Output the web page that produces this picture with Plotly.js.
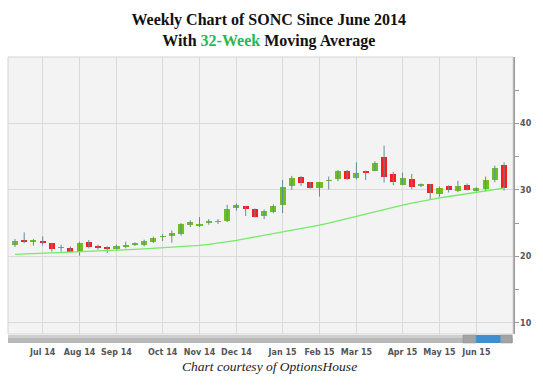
<!DOCTYPE html>
<html>
<head>
<meta charset="utf-8">
<script src="https://cdn.plot.ly/plotly-3.0.1.min.js"></script>
<style>
  html, body { margin: 0; padding: 0; background: #ffffff; }
  #chart { width: 543px; height: 387px; }
</style>
</head>
<body>
<div id="chart"></div>
<script>
// Weekly candles (Monday dates), SONC, Jun 2014 - Jun 2015
var weekStart = '2014-06-16';
var weekCount = 54;
var opens  = [21.70,22.45,22.10,22.35,21.95,21.20,21.25,20.70,22.10,21.60,21.45,21.10,21.45,21.75,21.65,22.15,22.85,23.00,23.30,24.65,24.55,25.00,25.10,25.25,27.25,27.50,27.10,26.00,26.70,27.70,30.65,31.95,31.15,30.25,31.30,31.65,32.80,31.80,32.70,32.90,34.90,32.35,30.80,31.65,30.60,30.85,29.40,30.55,29.85,30.70,29.85,30.20,31.50,33.80];
var highs  = [22.60,23.60,22.60,23.00,22.00,21.75,21.50,22.20,22.45,21.75,21.50,21.75,22.20,22.10,22.50,22.95,23.35,23.90,25.00,25.40,25.90,25.60,25.60,27.75,27.95,27.60,27.20,27.05,27.80,31.50,32.10,32.10,31.20,31.20,32.00,33.00,33.00,34.15,32.90,34.30,36.65,32.70,32.60,32.40,30.95,30.90,30.50,30.70,31.35,30.95,30.40,32.00,33.65,34.15];
var lows   = [21.40,21.95,21.60,21.60,20.70,20.70,20.60,20.10,21.20,21.00,20.50,21.00,21.20,21.55,21.50,22.00,22.30,22.05,23.10,24.40,24.40,24.75,24.85,25.15,26.85,26.05,25.80,25.60,26.50,26.50,30.00,30.60,30.20,29.00,30.05,31.30,31.50,31.55,31.50,32.80,31.10,30.70,30.70,30.10,30.40,28.50,28.95,29.60,29.65,29.90,29.75,29.75,31.15,29.90];
var closes = [22.35,22.10,22.40,21.95,21.10,21.45,20.70,21.95,21.45,21.20,21.10,21.60,21.75,21.85,22.25,22.80,22.95,23.50,24.80,25.15,24.90,25.10,25.20,27.05,27.65,27.15,25.95,26.80,27.50,30.40,31.85,31.10,30.25,31.15,31.40,32.80,31.65,32.55,32.60,34.05,32.00,31.25,31.75,30.40,30.75,29.50,30.35,30.00,30.65,30.05,30.25,31.50,33.30,30.30];
// 32-week moving average
var ma32 = [20.30,20.35,20.40,20.45,20.50,20.55,20.60,20.65,20.70,20.75,20.82,20.90,20.97,21.05,21.12,21.20,21.30,21.38,21.47,21.56,21.65,21.80,21.98,22.18,22.40,22.65,22.90,23.15,23.38,23.60,23.90,24.18,24.45,24.70,25.00,25.35,25.65,26.00,26.40,26.75,27.10,27.40,27.70,28.00,28.30,28.55,28.80,29.00,29.20,29.40,29.60,29.80,30.00,30.25];
// Month tick labels (first weekly bar of each month)
var monthTicks = ['2014-07-07','2014-08-04','2014-09-01','2014-10-06','2014-11-03','2014-12-01','2015-01-05','2015-02-02','2015-03-02','2015-04-06','2015-05-04','2015-06-01'];
var monthLabels = ['Jul 14','Aug 14','Sep 14','Oct 14','Nov 14','Dec 14','Jan 15','Feb 15','Mar 15','Apr 15','May 15','Jun 15'];
var priceTicks = [10,20,30,40];
var priceMinorTicks = [15,25,35,45];

// build weekly dates
var dates = [];
var d0 = new Date(weekStart + 'T00:00:00Z');
for (var i = 0; i < weekCount; i++) {
  var d = new Date(d0.getTime() + i * 7 * 86400000);
  dates.push(d.toISOString().slice(0, 10));
}

var GREEN = '#6cc020', RED = '#ff1c1c', WICK = '#5f8d9c';

var wx = [], wy = [];
for (var i = 0; i < weekCount; i++) {
  wx.push(dates[i], dates[i], null);
  wy.push(lows[i], highs[i], null);
}
var bodyBase = [], bodyLen = [], bodyCol = [];
for (var i = 0; i < weekCount; i++) {
  var lo = Math.min(opens[i], closes[i]);
  var len = Math.abs(closes[i] - opens[i]);
  bodyBase.push(lo);
  bodyLen.push(Math.max(len, 0.24));
  bodyCol.push(closes[i] >= opens[i] ? GREEN : RED);
}

var traces = [
  { type: 'scatter', mode: 'lines', x: wx, y: wy, line: { color: WICK, width: 1 }, hoverinfo: 'skip', showlegend: false, connectgaps: false },
  { type: 'bar', x: dates, y: bodyLen, base: bodyBase, width: 0.66 * 7 * 86400000,
    marker: { color: bodyCol, line: { width: 0 } }, showlegend: false },
  { type: 'scatter', mode: 'lines', x: dates, y: ma32, line: { color: '#72ec66', width: 1.3 }, showlegend: false }
];

var H = 277; // plot height in px
var layout = {
  width: 543, height: 387,
  margin: { l: 8, r: 30, t: 57, b: 53, pad: 0 },
  paper_bgcolor: '#ffffff',
  plot_bgcolor: '#f3f3f3',
  font: { family: 'DejaVu Sans', size: 8, color: '#555555' },
  title: {
    text: 'Weekly Chart of SONC Since June 2014<br>With <span style="color:#1fb85a">32-Week</span> Moving Average',
    font: { family: 'Liberation Serif', size: 16, color: '#111111', weight: 'bold' },
    x: 0.495, xanchor: 'center', y: 0.935, yanchor: 'top', yref: 'container'
  },
  bargap: 0,
  xaxis: {
    type: 'date',
    range: ['2014-06-10 17:00', '2015-06-28 19:00'],
    tickvals: monthTicks, ticktext: monthLabels,
    showgrid: true, gridcolor: '#dadada', gridwidth: 1,
    ticks: '', showline: false, zeroline: false,
    tickfont: { family: 'DejaVu Sans', size: 8, color: '#555555', weight: 'bold' },
    ticklabelstandoff: 12,
    fixedrange: true
  },
  yaxis: {
    side: 'right',
    range: [8.3, 50],
    tickvals: priceTicks,
    showgrid: true, gridcolor: '#dadada', gridwidth: 1,
    zeroline: false,
    showline: true, linecolor: '#9a9a9a', linewidth: 1.5,
    ticks: 'outside', ticklen: 4, tickcolor: '#9a9a9a', tickwidth: 1,
    minor: { tickvals: priceMinorTicks, ticks: 'outside', ticklen: 4, tickcolor: '#9a9a9a', showgrid: false },
    tickfont: { family: 'DejaVu Sans', size: 8, color: '#555555', weight: 'bold' },
    fixedrange: true
  },
  shapes: [
    { type: 'rect', xref: 'paper', yref: 'paper', x0: 0, x1: 1, y0: 0, y1: 1, line: { color: '#d4d4d4', width: 1 }, fillcolor: 'rgba(0,0,0,0)', layer: 'above' },
    // scrollbar track
    { type: 'rect', xref: 'paper', yref: 'paper', x0: 0, x1: 1, y0: -9 / H, y1: -1 / H, line: { width: 0 }, fillcolor: '#b9b9b9' },
    { type: 'rect', xref: 'paper', yref: 'paper', x0: 0, x1: 1, y0: -4 / H, y1: -1 / H, line: { width: 0 }, fillcolor: '#cfcfcf' },
    // slider handles and thumb
    { type: 'rect', xref: 'paper', yref: 'paper', x0: 0.901, x1: 0.927, y0: -9 / H, y1: -1 / H, line: { color: '#8c8c8c', width: 0.5 }, fillcolor: '#a3a3a3' },
    { type: 'rect', xref: 'paper', yref: 'paper', x0: 0.927, x1: 0.9756, y0: -9 / H, y1: -1 / H, line: { width: 0 }, fillcolor: '#3d8fd1' },
    { type: 'rect', xref: 'paper', yref: 'paper', x0: 0.9756, x1: 0.998, y0: -9 / H, y1: -1 / H, line: { color: '#8c8c8c', width: 0.5 }, fillcolor: '#a3a3a3' }
  ],
  annotations: [
    { text: 'Chart courtesy of OptionsHouse', xref: 'paper', yref: 'paper', x: 0.518, y: -32 / H,
      xanchor: 'center', yanchor: 'middle', showarrow: false,
      font: { family: 'Liberation Serif', size: 13.5, color: '#222222', style: 'italic' } }
  ]
};

Plotly.newPlot('chart', traces, layout, { displayModeBar: false, staticPlot: true });
</script>
</body>
</html>
